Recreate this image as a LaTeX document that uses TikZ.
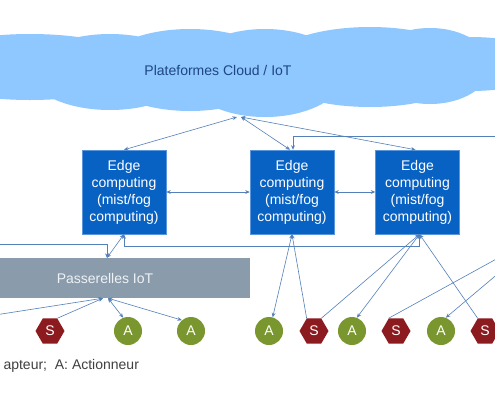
\documentclass[tikz,border=0pt]{standalone}
\usepackage{fontspec}
\setmainfont{Liberation Sans}
\usetikzlibrary{shapes.geometric,arrows.meta,calc}
\definecolor{cloudblue}{RGB}{143,199,255}
\definecolor{cloudtext}{RGB}{30,70,130}
\definecolor{edgeblue}{RGB}{8,98,196}
\definecolor{edgeborder}{RGB}{90,150,220}
\definecolor{gwgray}{RGB}{138,155,171}
\definecolor{gwtext}{RGB}{238,242,246}
\definecolor{sred}{RGB}{140,27,32}
\definecolor{agreen}{RGB}{122,150,46}
\definecolor{linkblue}{RGB}{84,128,186}
\definecolor{legendgray}{RGB}{64,64,64}
\tikzset{
  txt/.style={font=\fontsize{14}{17}\selectfont},
  edgebox/.style={txt, rectangle, fill=edgeblue, draw=edgeborder, line width=0.5pt, text=white,
    minimum width=84pt, minimum height=84pt, align=center, inner sep=0pt},
  gwbar/.style={txt, rectangle, fill=gwgray, text=gwtext, minimum width=290pt, minimum height=40pt, inner sep=0pt},
  snode/.style={txt, regular polygon, regular polygon sides=6, fill=sred, text=white, minimum size=29pt, inner sep=0pt},
  anode/.style={txt, circle, fill=agreen, text=white, minimum size=28pt, inner sep=0pt},
  link/.style={draw=linkblue, line width=0.6pt},
  tip/.tip={Stealth[length=4.5pt,width=3.8pt]},
}
\begin{document}
\begin{tikzpicture}[x=1pt,y=-1pt]
\clip (0,0) rectangle (495,400);
\fill[white] (0,0) rectangle (495,400);
% cloud
\fill[cloudblue]
  (30,67) ellipse [x radius=115pt, y radius=33pt]
  (110,72) ellipse [x radius=80pt, y radius=38pt]
  (190,70) ellipse [x radius=90pt, y radius=41pt]
  (265,73) ellipse [x radius=80pt, y radius=44pt]
  (370,67) ellipse [x radius=105pt, y radius=40pt]
  (470,64) ellipse [x radius=85pt, y radius=27pt]
  (430,66) ellipse [x radius=60pt, y radius=38pt];
\node[txt, text=cloudtext] (cloud) at (218,70) {Plateformes Cloud / IoT};
\coordinate (c1) at (237,117);
\coordinate (c2) at (241,117);
% edge boxes
\node[edgebox] (e1) at (124,192) {Edge\\computing\\(mist/fog\\computing)};
\node[edgebox] (e2) at (292,192) {Edge\\computing\\(mist/fog\\computing)};
\node[edgebox] (e3) at (417.5,192) {Edge\\computing\\(mist/fog\\computing)};
% gateway
\node[gwbar] (gw) at (105,278) {Passerelles IoT};
% devices
\node[snode] (s1) at (50,331) {S};
\node[anode] (a2) at (128,331) {A};
\node[anode] (a3) at (191,331) {A};
\node[anode] (a4) at (269,331) {A};
\node[snode] (s5) at (314,331) {S};
\node[anode] (a6) at (352,331) {A};
\node[snode] (s7) at (396,331) {S};
\node[anode] (a8) at (441,331) {A};
\node[snode] (s9) at (485,331) {S};
\node[txt, text=legendgray, anchor=west] (legend) at (0,366) {apteur;\ \ A: Actionneur};
% free ends
\coordinate (r1) at (500,136);
\coordinate (l1) at (-5,244);
\coordinate (l2) at (-5,315);
\coordinate (r2) at (500,257);
\coordinate (r3) at (500,272);
% cloud links
\draw[link, tip-tip] (e1.north) -- (c1);
\draw[link, tip-tip] ([xshift=-2pt]e2.north) -- (c2);
\draw[link, tip-tip] ([xshift=-2pt]e3.north) -- (c2);
\draw[link, -tip] (r1) -| ([xshift=1pt]e2.north);
% edge to edge
\draw[link, tip-tip] (e1.east) -- (e2.west);
\draw[link, tip-tip] (e2.east) -- (e3.west);
% edge to gateway
\draw[link, -tip] (l1) -| ([xshift=2pt]gw.north);
\draw[link, tip-tip] ([xshift=2pt]gw.north) -- (e1.south);
\draw[link, tip-tip] (e1.south) -- ++(0,12) -| ([xshift=2pt]e3.south);
% edge to devices
\draw[link, tip-tip] (e2.south) -- (a4.75);
\draw[link, tip-] (e2.south) -- (s5.120);
\draw[link, tip-] ([xshift=2pt]e3.south) -- (s5.60);
\draw[link, tip-tip] ([xshift=2pt]e3.south) -- (a6.70);
\draw[link, tip-] ([xshift=2pt]e3.south) -- (s9.120);
\draw[link] (r2) -- (s7.120);
\draw[link, -tip] (r3) -- (a8.70);
% gateway to devices
\draw[link, -tip] (l2) -- ([xshift=-2pt]gw.south);
\draw[link, -tip] (s1.60) -- ([xshift=-2pt]gw.south);
\draw[link, tip-tip] ([xshift=3pt]gw.south) -- (a2.110);
\draw[link, tip-tip] ([xshift=3pt]gw.south) -- (a3.130);
\end{tikzpicture}
\end{document}
